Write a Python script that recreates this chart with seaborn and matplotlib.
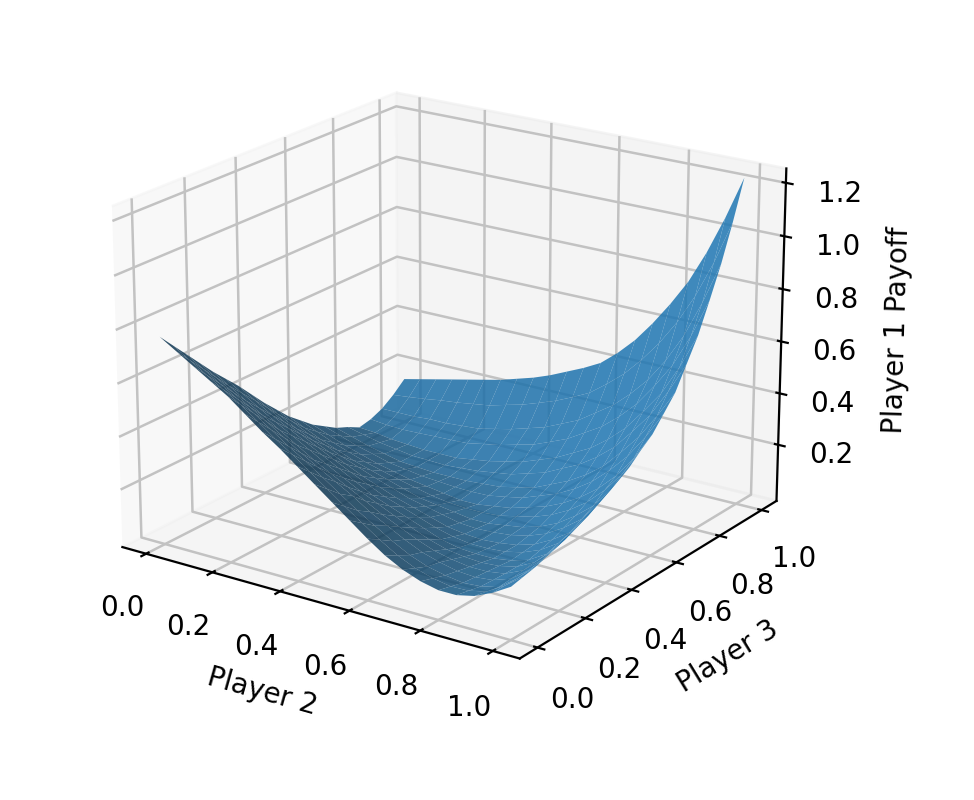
import numpy as np
import seaborn as sns
import matplotlib.pyplot as plt

player_2 = np.linspace(0, 1, 21)
player_3 = np.linspace(0, 1, 21)
payoff_ticks = [0.2, 0.4, 0.6, 0.8, 1.0, 1.2]
# one row per Player 3 value
payoff = [
    [.765, .725, .685, .645, .605, .555, .505, .46, .41, .36, .31, .26, .21, .165, .13, .105, .09, .09, .105, .135, .175],
    [.71, .67, .63, .59, .55, .503, .455, .413, .365, .318, .27, .225, .18, .14, .11, .09, .078, .08, .095, .135, .185],
    [.655, .615, .575, .535, .495, .45, .405, .365, .32, .275, .23, .19, .15, .115, .09, .075, .065, .07, .085, .135, .195],
    [.60, .56, .52, .48, .44, .397, .355, .317, .28, .243, .20, .165, .13, .10, .08, .065, .06, .067, .09, .14, .21],
    [.545, .505, .465, .425, .385, .345, .305, .27, .235, .20, .165, .135, .105, .08, .065, .055, .055, .065, .095, .15, .225],
    [.495, .455, .415, .377, .34, .303, .265, .23, .195, .165, .135, .107, .08, .06, .05, .045, .05, .065, .10, .162, .245],
    [.445, .405, .365, .33, .295, .26, .225, .19, .155, .13, .105, .08, .055, .04, .035, .035, .045, .065, .105, .175, .265],
    [.39, .353, .315, .283, .25, .217, .185, .155, .125, .103, .08, .057, .04, .03, .03, .035, .05, .077, .12, .195, .29],
    [.335, .30, .265, .235, .205, .175, .145, .12, .095, .075, .055, .035, .025, .02, .025, .035, .055, .09, .135, .215, .315],
    [.285, .253, .22, .193, .165, .14, .115, .093, .07, .055, .04, .025, .02, .023, .03, .045, .07, .11, .16, .24, .34],
    [.235, .205, .175, .15, .125, .105, .085, .065, .045, .035, .025, .015, .015, .025, .035, .055, .085, .13, .185, .265, .365],
    [.195, .167, .14, .117, .095, .077, .06, .045, .03, .02, .015, .015, .02, .035, .05, .075, .11, .157, .22, .30, .405],
    [.155, .13, .105, .085, .065, .05, .035, .025, .015, .005, .005, .015, .025, .045, .065, .095, .135, .185, .25, .335, .44],
    [.125, .103, .08, .063, .045, .035, .025, .02, .015, .013, .015, .027, .04, .065, .09, .125, .17, .23, .30, .39, .495],
    [.095, .075, .055, .04, .025, .02, .015, .015, .015, .02, .025, .04, .055, .085, .115, .155, .205, .275, .35, .445, .55],
    [.075, .06, .045, .035, .025, .023, .02, .025, .03, .04, .05, .07, .09, .123, .155, .20, .255, .33, .41, .515, .635],
    [.05, .045, .035, .03, .025, .025, .025, .035, .045, .06, .075, .10, .125, .16, .195, .245, .305, .385, .47, .585, .72],
    [.06, .053, .05, .052, .055, .057, .06, .073, .085, .103, .12, .147, .175, .215, .255, .31, .375, .46, .555, .68, .83],
    [.08, .08, .08, .085, .085, .09, .095, .11, .125, .145, .165, .195, .225, .27, .315, .375, .445, .535, .645, .785, .945],
    [.113, .12, .128, .138, .145, .155, .165, .183, .20, .223, .247, .277, .31, .36, .415, .485, .565, .66, .775, .915, 1.08],
    [.155, .17, .185, .20, .215, .23, .245, .265, .285, .31, .34, .37, .405, .46, .525, .605, .695, .795, .92, 1.065, 1.228],
]

X, Y = np.meshgrid(player_2, player_3)
Z = np.array(payoff)

plt.rcParams['grid.color'] = '#c2c2c2'
plt.rcParams['grid.linewidth'] = 0.9

fig = plt.figure(figsize=(4.87, 4), dpi=200)
ax = fig.add_axes([0.075, 0.0763, 742 / 974, 742 / 800], projection='3d')
ax.plot_surface(X, Y, Z, color=sns.color_palette('tab10')[0], rstride=1, cstride=1, alpha=0.85)
ax.view_init(elev=20, azim=-55.5)
ax.set_zticks(payoff_ticks)
ax.yaxis.set_pane_color((.92, .92, .92, .5))
ax.set_xlabel('Player 2')
ax.set_ylabel('Player 3')
ax.set_zlabel('Player 1 Payoff')
fig.savefig('out.png', dpi=200)
